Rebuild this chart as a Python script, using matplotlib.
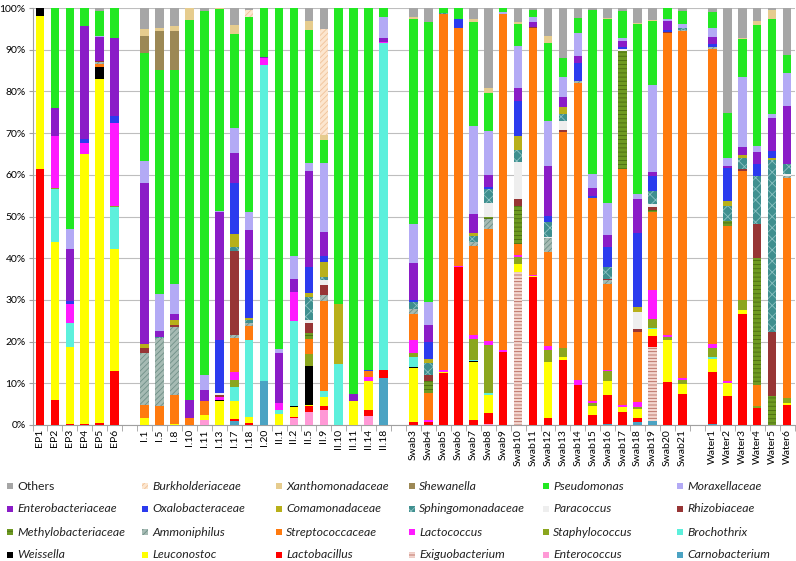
import numpy as np
import matplotlib.pyplot as plt
from matplotlib.patches import Rectangle

plt.rcParams['font.family'] = ['Lato', 'DejaVu Sans']
plt.rcParams['hatch.linewidth'] = 0.6

# sample names, four groups
ep = ['EP1', 'EP2', 'EP3', 'EP4', 'EP5', 'EP6']
ind = ['I.1', 'I.5', 'I.8', 'I.10', 'I.11', 'I.13', 'I.17', 'I.18', 'I.20',
       'II.1', 'II.2', 'II.5', 'II.9', 'II.10', 'II.11', 'II.14', 'II.18']
swab = ['Swab3', 'Swab4', 'Swab5', 'Swab6', 'Swab7', 'Swab8', 'Swab9', 'Swab10',
        'Swab11', 'Swab12', 'Swab13', 'Swab14', 'Swab15', 'Swab16', 'Swab17',
        'Swab18', 'Swab19', 'Swab20', 'Swab21']
water = ['Water1', 'Water2', 'Water3', 'Water4', 'Water5', 'Water6']

# relative abundance (%) per taxon, order: EP | I + II | Swab | Water
carnobacterium = [0, 0, 0, 0, 0, 0,
                  0, 0, 0, 0, 0, 0, 1.0, 0, 10.5, 0, 0, 0, 0, 0, 0, 0, 11.3,
                  0, 0, 0, 0, 0, 0, 0, 0, 0, 0, 0, 0, 0, 0.3, 0, 0.8, 1.0, 0, 0,
                  0.3, 0, 0, 0, 0, 0]
enterococcus = [0, 0, 0, 0, 0, 0,
                0, 0, 0, 0, 1.1, 0, 0, 0, 0, 0, 1.7, 3.2, 3.7, 0, 0, 2.1, 0,
                0, 0, 0, 0, 0, 0.3, 0, 0, 0, 0, 0, 0, 0, 0, 0, 0, 0, 0, 0,
                0, 0, 0, 0, 0, 0]
exiguobacterium = [0, 0, 0, 0, 0, 0,
                   0, 0, 0, 0, 0, 0, 0, 0, 0, 0, 0, 0, 0, 0, 0, 0, 0,
                   0, 0, 0, 0, 0, 0, 0, 36.6, 0, 0, 0, 0, 0, 0, 0, 0, 17.6, 0, 0,
                   0, 0, 0, 0, 0, 0]
lactobacillus = [61.3, 6, 0.3, 0.3, 0.4, 13,
                 0, 0, 0, 0, 0, 0, 0.5, 0.5, 0, 0, 0.3, 1.3, 0.8, 0, 0, 1.6, 2.0,
                 0.8, 0.6, 12.5, 37.9, 1.3, 2.6, 17.6, 0, 35.5, 1.7, 15.6, 9.7, 2.4,
                 6.8, 3.2, 0.9, 2.8, 10.4, 7.5,
                 12.4, 6.9, 26.7, 4.1, 0, 4.9]
leuconostoc = [36.7, 38, 18.5, 64.8, 82.5, 29.2,
               1.7, 0, 0.3, 0, 1.3, 5.7, 4.3, 1.4, 0, 2.7, 2.2, 0.2, 2.2, 0, 5.7, 6.8, 0,
               12.9, 0, 0.3, 0, 13.9, 4.4, 0, 1.9, 0.2, 13.4, 0.6, 0, 2.1, 3.4, 1.1,
               2.2, 1.6, 10.0, 2.3,
               3.2, 3.2, 0.8, 0, 0, 0.3]
weissella = [2.0, 0, 0, 0, 3.0, 0,
             0, 0, 0, 0, 0, 0.3, 0, 0, 0, 0, 0.3, 9.4, 0, 0, 0, 0, 0,
             0.2, 0, 0, 0, 0.2, 0, 0, 0, 0, 0, 0, 0, 0, 0, 0, 0, 0, 0, 0,
             0, 0, 0, 0, 0, 0]
brochothrix = [0, 12.6, 5.6, 0, 0, 10,
               0, 0, 0, 0, 0, 0, 3.4, 18.5, 75.8, 1.0, 20.4, 0, 1.4, 14.6, 0, 0, 78.3,
               2.3, 0, 0, 0, 0.3, 0.3, 0, 0, 0, 0, 0, 0, 0, 0, 0, 0, 0.3, 0, 0,
               0.3, 0, 0, 0, 0, 0]
staphylococcus = [0, 0.3, 0, 0, 0, 0.3,
                  0, 0, 0, 0, 0, 0, 1.6, 0, 0, 0, 0, 2.9, 0, 0, 0, 0, 0,
                  1.0, 0, 0, 0, 4.9, 11.6, 0, 1.9, 0, 2.9, 2.2, 0, 0.8, 2.4, 0,
                  0.4, 2.1, 0.7, 1.1,
                  2.2, 0, 2.4, 0.4, 0, 1.3]
lactococcus = [0, 12.5, 4.5, 2.5, 0, 20,
               0, 0, 0, 0, 0, 0.7, 2.0, 0, 1.6, 1.6, 7.1, 0, 0, 0, 0, 0.9, 0.3,
               3.2, 0.7, 0.4, 0.3, 1.1, 1.0, 0.4, 0.3, 0.3, 1.0, 0, 1.2, 0.4, 0.4,
               0.4, 1.1, 6.9, 0.5, 0.3,
               1.0, 0.5, 0, 0, 0, 0]
streptococcaceae = [0, 0, 0, 0, 0.6, 0,
                    3.2, 4.5, 6.8, 1.6, 3.3, 0, 8.0, 3.4, 0, 0, 0, 3.6, 21.6, 0, 0, 1.5, 0,
                    6.3, 6.4, 85.4, 57.0, 21.3, 26.9, 80.6, 2.6, 59.2, 22.6, 51.8, 71.0,
                    48.8, 20.6, 56.7, 17.0, 18.7, 72.4, 83.2,
                    70.8, 37.2, 31.0, 5.2, 0, 52.8]
ammoniphilus = [0, 0, 0, 0, 0.5, 0,
                12.3, 16.3, 16.5, 0, 0, 0, 0.8, 0.6, 0, 0, 0, 0, 1.4, 0, 0, 0, 0,
                1.2, 0, 0, 0, 1.0, 2.4, 0, 0, 0, 3.2, 0, 0.6, 0, 0.8, 0, 0, 0, 0, 0.4,
                0.4, 0, 0, 0, 0, 0.3]
methylobacteriaceae = [0, 0, 0, 0, 0, 0,
                       0, 0, 0, 0, 0, 0, 0, 0, 0, 0, 0, 1.4, 0, 0, 0, 0, 0,
                       0, 2.8, 0, 0, 0, 0.3, 0, 9.2, 0, 0, 0, 0, 0, 0, 28.4, 0, 0.6, 0, 0,
                       0, 1.2, 0, 30.3, 6.9, 0]
rhizobiaceae = [0, 0, 0, 0, 0.3, 0,
                1.2, 0, 0.5, 0, 0, 0.4, 20.2, 0, 0, 0, 0, 2.4, 2.4, 0, 0, 0, 0,
                0, 1.4, 0, 0, 0, 0, 0, 1.7, 0.3, 0, 0.5, 0, 0, 0.4, 0, 0.6, 0.6, 0.3, 0,
                0, 0, 0.5, 8.2, 15.5, 0]
paracoccus = [0, 0, 0, 0, 0, 0,
              0, 0, 0, 0, 0, 0.5, 0, 0, 0, 0, 0, 0.8, 1.2, 0, 0, 0, 0,
              0, 0, 0, 0, 0, 3.5, 0, 8.8, 0, 0.4, 2.1, 0, 0, 0, 0.3, 4.0, 0.8, 0, 0,
              0, 0, 0, 0, 0, 0.7]
sphingomonadaceae = [0, 0, 0, 0, 0, 0,
                     0, 0.3, 0, 0, 0, 0, 0.8, 0.8, 0, 0, 0, 5.5, 0.8, 0, 0, 0, 0,
                     1.6, 2.9, 0.3, 0, 1.4, 3.2, 0, 3.0, 0, 3.4, 1.8, 0, 0, 2.8, 0, 0,
                     3.2, 0, 0.4,
                     0, 3.4, 2.6, 11.6, 41.1, 2.2]
comamonadaceae = [0, 0, 0, 0, 0, 0,
                  1.0, 0, 1.1, 0, 0, 0, 3.2, 0.5, 0, 0, 0, 0.9, 3.5, 14.4, 0, 0, 0,
                  0, 1.1, 0, 0, 0.6, 0, 0, 3.3, 0, 0, 1.6, 0, 0, 0, 0, 1.4, 0, 0, 0,
                  0, 1.3, 0.8, 0, 0.6, 0]
oxalobacteraceae = [0, 0, 0.8, 1.0, 0, 1.6,
                    0, 0, 0, 0, 0, 12.8, 12.3, 11.5, 0, 0, 0, 6.3, 1.6, 0, 0, 0.3, 0,
                    0.5, 4.1, 0, 2.2, 0, 0.5, 0, 8.4, 0, 1.6, 0, 4.2, 0.5, 4.7, 0.5,
                    17.6, 3.5, 0.4, 0,
                    0.8, 8.0, 0, 2.7, 1.5, 0]
enterobacteriaceae = [0, 6.7, 12.6, 27.2, 5.7, 18.6,
                      38.7, 1.4, 1.5, 4.3, 2.8, 30.6, 7.1, 9.5, 0.3,
                      11.9, 3.0, 23.0, 5.6, 0, 1.8, 0, 1.0,
                      8.8, 4.1, 0, 0, 4.5, 3.0, 0, 3.0, 1.1, 11.9, 2.4, 1.7, 1.9, 3.0,
                      1.5, 8.1, 0.9, 2.2, 0,
                      1.6, 0.5, 1.9, 2.9, 8.0, 13.9]
moraxellaceae = [0, 0, 4.7, 0, 0.4, 0,
                 5.2, 8.8, 7.0, 0, 3.4, 0.3, 6.0, 4.3, 0, 1.1, 5.6, 2.0, 16.7, 0, 0, 0, 4.9,
                 9.3, 5.4, 0, 0, 21.1, 10.4, 0.5, 10.3, 1.2, 10.7, 4.9, 5.6, 3.2, 7.6,
                 0.6, 1.2, 20.9, 0.4, 1.0,
                 2.2, 1.8, 16.8, 1.4, 1.0, 7.9]
pseudomonas = [0, 23.9, 53, 4.2, 6.0, 7.3,
               25.9, 53.9, 51.5, 91.2, 87.3, 48.5, 22.6, 46.9, 11.8,
               81.7, 59.4, 31.9, 5.5, 71.0, 92.5, 86.8, 2.2,
               49.2, 67.1, 1.1, 2.6, 25.0, 9.1, 0.9, 5.2, 1.7, 18.8, 4.4, 3.6, 39.4,
               44.2, 6.5, 40.9, 15.3, 2.7, 3.0,
               3.8, 10.8, 9.1, 29.2, 22.8, 4.4]
shewanella = [0, 0, 0, 0, 0, 0,
              4.0, 9.2, 9.2, 0, 0, 0, 0, 0, 0, 0, 0, 0, 0, 0, 0, 0, 0,
              0, 0, 0, 0, 0, 0, 0, 0, 0, 0, 0, 0, 0, 0, 0, 0, 0, 0, 0,
              0, 0, 0, 0, 0, 0]
xanthomonadaceae = [0, 0, 0, 0, 0, 0,
                    1.8, 0.8, 1.2, 2.9, 0, 0.2, 2.2, 0, 0, 0, 0, 2.2, 1.2, 0, 0, 0, 0,
                    0.5, 0, 0, 0, 0.8, 1.2, 0, 0.4, 0, 1.8, 0.2, 0, 0, 0.3, 0, 0.3, 0.3,
                    0, 0,
                    0, 0, 0.3, 1.0, 2.1, 0]
burkholderiaceae = [0, 0, 0, 0, 0, 0,
                    0, 0, 0, 0, 0, 0, 0, 1.6, 0, 0, 0, 0, 25.4, 0, 0, 0, 0,
                    0, 0, 0, 0, 0, 0, 0, 0, 0, 0, 0, 0, 0, 0, 0, 0, 0, 0, 0,
                    0, 0, 0, 0, 0, 0]
others = [0, 0, 0, 0, 0.6, 0,
          5.0, 4.8, 4.4, 0, 0.8, 0, 4.0, 0.5, 0, 0, 0, 3.0, 5.0, 0, 0, 0, 0,
          2.2, 3.4, 0, 0, 2.6, 19.3, 0, 3.4, 0.5, 6.6, 11.9, 2.4, 0.5, 2.3, 0.8,
          3.5, 2.9, 0, 0.8,
          1.0, 25.2, 7.1, 3.0, 0.5, 11.3]

# stacking order bottom -> top: (label, values, face, hatch, hatch colour)
series = [
    ('Carnobacterium', carnobacterium, '#4BA3C3', None, None),
    ('Enterococcus', enterococcus, '#FF99D6', None, None),
    ('Exiguobacterium', exiguobacterium, '#F3D6CF', '-----', '#B5675B'),
    ('Lactobacillus', lactobacillus, '#FF0000', None, None),
    ('Leuconostoc', leuconostoc, '#FFFF00', None, None),
    ('Weissella', weissella, '#000000', None, None),
    ('Brochothrix', brochothrix, '#5CF0DC', None, None),
    ('Staphylococcus', staphylococcus, '#8BA61E', None, None),
    ('Lactococcus', lactococcus, '#FF1AFF', None, None),
    ('Streptococcaceae', streptococcaceae, '#FF7A0E', None, None),
    ('Ammoniphilus', ammoniphilus, '#A6BBB4', '//////', '#6F8F87'),
    ('Methylobacteriaceae', methylobacteriaceae, '#6E9A22', '----', '#4A6C12'),
    ('Rhizobiaceae', rhizobiaceae, '#973535', None, None),
    ('Paracoccus', paracoccus, '#EEEEEE', None, None),
    ('Sphingomonadaceae', sphingomonadaceae, '#3F8F8F', 'xxx', '#8CC2C2'),
    ('Comamonadaceae', comamonadaceae, '#B8B01A', None, None),
    ('Oxalobacteraceae', oxalobacteraceae, '#2B3BEE', None, None),
    ('Enterobacteriaceae', enterobacteriaceae, '#8A1CC7', None, None),
    ('Moraxellaceae', moraxellaceae, '#B3AAF5', None, None),
    ('Pseudomonas', pseudomonas, '#22E822', None, None),
    ('Shewanella', shewanella, '#9C8855', None, None),
    ('Xanthomonadaceae', xanthomonadaceae, '#E6CC8E', None, None),
    ('Burkholderiaceae', burkholderiaceae, '#FCE6CF', '//////', '#F0C298'),
    ('Others', others, '#A6A6A6', None, None),
]

groups = [ep, ind, swab, water]
labels = []
x = []
start = 0
for g in groups:
    labels += g
    x += list(range(start, start + len(g)))
    start += len(g) + 1
x = np.array(x)
nslot = start - 1

vals = np.array([s[1] for s in series], dtype=float)
vals = vals / vals.sum(axis=0)  # 100% stacked

fig = plt.figure(figsize=(7.96, 5.61), dpi=100)
ax = fig.add_axes([32.5 / 796, 1 - 425 / 561, 762 / 796, 417 / 561])

bottom = np.zeros(len(x))
for (name, v, face, hatch, hcol), row in zip(series, vals):
    if hatch:
        ax.bar(x, row, 0.58, bottom=bottom, color=face, hatch=hatch,
               edgecolor=hcol, linewidth=0, zorder=3)
    else:
        ax.bar(x, row, 0.58, bottom=bottom, color=face, linewidth=0, zorder=3)
    bottom += row

ax.set_xlim(-0.5, nslot - 0.5)
ax.set_ylim(0, 1)
ax.set_yticks(np.arange(0, 1.01, 0.1))
ax.set_yticklabels(['%d%%' % round(t * 100) for t in np.arange(0, 1.01, 0.1)], fontsize=7.5)
ax.yaxis.grid(True, color='#BEBEBE', linewidth=0.8, zorder=0)
ax.set_axisbelow(True)

ax.set_xticks(x)
ax.set_xticklabels(labels, rotation=90, fontsize=7.5, va='top', ha='center')
ax.set_xticks(np.arange(-0.5, nslot, 1.0), minor=True)
ax.tick_params(axis='x', which='major', length=0, pad=3)
ax.tick_params(axis='x', which='minor', length=4, color='#A0A0A0')
ax.tick_params(axis='y', length=3, color='#A0A0A0', pad=2)

for side in ['top', 'right']:
    ax.spines[side].set_visible(False)
for side in ['left', 'bottom']:
    ax.spines[side].set_color('#A0A0A0')
    ax.spines[side].set_linewidth(0.8)

# legend, 6 columns x 4 rows, read row by row (reverse of stacking order)
leg_items = series[::-1]
col_x = [7, 142, 276, 409, 543, 677]
row_y = [486, 509, 532, 555]
W, H = 796.0, 561.0
for k, (name, v, face, hatch, hcol) in enumerate(leg_items):
    r, c = divmod(k, 6)
    px, py = col_x[c], row_y[r]
    rect = Rectangle((px / W, 1 - (py + 3) / H), 6 / W, 6 / H, transform=fig.transFigure,
                     facecolor=face, hatch=hatch, edgecolor=hcol if hatch else 'none',
                     linewidth=0)
    fig.add_artist(rect)
    fig.text((px + 10) / W, 1 - py / H, name, fontsize=8.8, va='center', ha='left',
             style='normal' if name == 'Others' else 'italic', color='#222222')

plt.savefig('out.png', dpi=100)
